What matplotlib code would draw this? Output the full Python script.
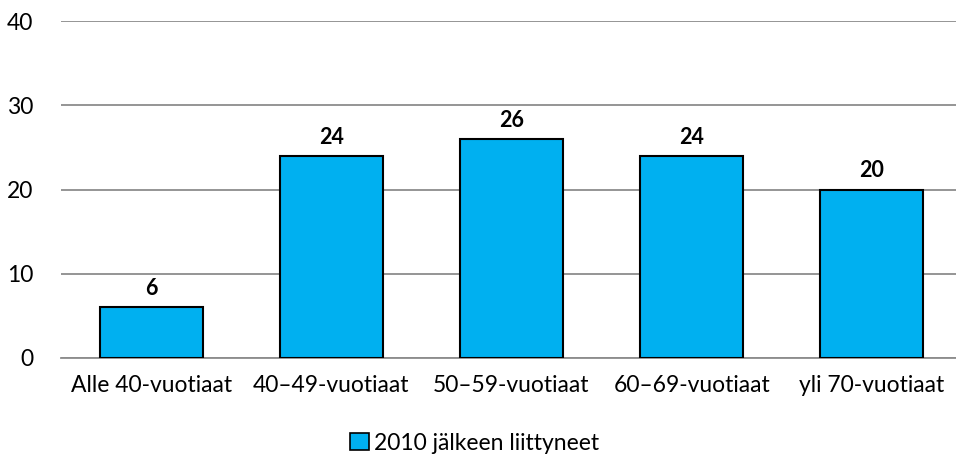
import matplotlib
matplotlib.use("Agg")
import matplotlib.pyplot as plt
from matplotlib.patches import Patch

categories = ["Alle 40-vuotiaat", "40–49-vuotiaat", "50–59-vuotiaat", "60–69-vuotiaat", "yli 70-vuotiaat"]
values = [6, 24, 26, 24, 20]
series_name = "2010 jälkeen liittyneet"
yticks = [0, 10, 20, 30, 40]

plt.rcParams['font.family'] = ['Lato', 'DejaVu Sans']
FS = 16.5

fig = plt.figure(figsize=(9.56, 4.62), dpi=100)
ax = fig.add_axes([61/956, 104/462, 901/956, 337/462])

x = list(range(len(categories)))
bars = ax.bar(x, values, width=0.572, color="#00B0F0", edgecolor="black", linewidth=1.5, zorder=3)
for xi, v in zip(x, values):
    ax.text(xi, v + 2.2, str(v), ha="center", va="center", fontsize=15.5, fontweight="bold", color="black")

ax.set_xlim(-0.5, len(categories) - 0.5)
ax.set_ylim(0, 40)
ax.set_yticks(yticks)
ax.set_yticklabels([str(t) for t in yticks], fontsize=FS)
ax.set_xticks(x)
ax.set_xticklabels(categories, fontsize=FS)
ax.tick_params(axis="both", length=0)
ax.tick_params(axis="y", pad=20)
ax.tick_params(axis="x", pad=12)
ax.yaxis.grid(True, color="#8c8c8c", linewidth=1.3, zorder=0)
for s in ["top", "right", "left"]:
    ax.spines[s].set_visible(False)
ax.spines["bottom"].set_color("#8c8c8c")
ax.spines["bottom"].set_linewidth(1.3)

handles = [Patch(facecolor="#00B0F0", edgecolor="black", linewidth=1.2, label=series_name)]
fig.legend(handles=handles, loc="center", bbox_to_anchor=(475/956, 1 - 443/462), frameon=False,
           fontsize=FS, handlelength=0.8, handleheight=0.8, handletextpad=0.25)

fig.savefig("out.png", dpi=100)
